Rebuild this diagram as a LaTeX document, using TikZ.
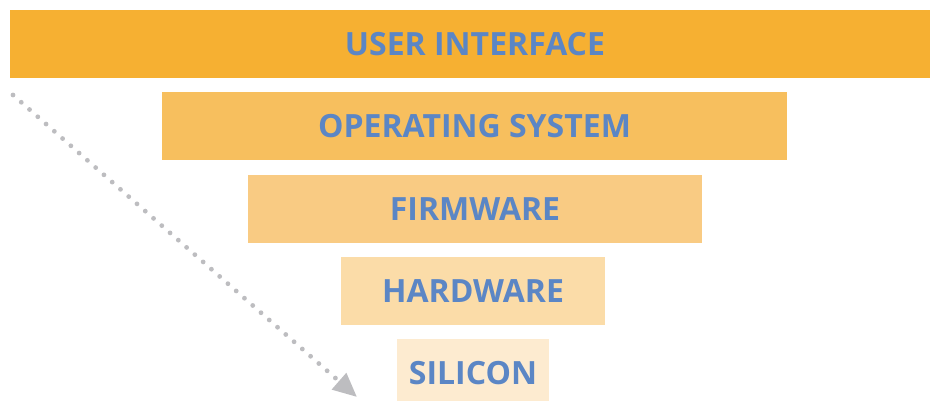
\documentclass[tikz,border=0pt]{standalone}
\usepackage{fontspec}
\setmainfont{Open Sans}
\usepackage{tikz}
\usetikzlibrary{arrows.meta,positioning}
\definecolor{lyrA}{HTML}{F6B032}
\definecolor{lyrB}{HTML}{F7BF5E}
\definecolor{lyrC}{HTML}{F9CB83}
\definecolor{lyrD}{HTML}{FBDCA8}
\definecolor{lyrE}{HTML}{FDEBD0}
\definecolor{lyrtxt}{HTML}{5B86C5}
\definecolor{dotgray}{HTML}{BDBDC0}
\tikzset{lyr/.style={rectangle,minimum height=68pt,inner sep=0pt,text=lyrtxt,font=\fontsize{32}{36}\selectfont\bfseries}}

\begin{document}
\begin{tikzpicture}[x=1pt,y=-1pt,dotarrow/.style={draw=dotgray,line width=4.8pt,line cap=round,dash pattern=on 0pt off 11pt,-{Triangle[length=24pt,width=21pt,line cap=butt]}}]
	\useasboundingbox (0,0) rectangle (930,400);
	\clip (0,0) rectangle (930,400);
	\node[lyr,fill=lyrA,minimum width=930pt] (ui) at (475,44) {USER INTERFACE};
	\node[lyr,fill=lyrB,minimum width=625pt] (os) at (474.5,126) {OPERATING SYSTEM};
	\node[lyr,fill=lyrC,minimum width=454pt] (fw) at (475,209) {FIRMWARE};
	\node[lyr,fill=lyrD,minimum width=264pt] (hw) at (473,291) {HARDWARE};
	\node[lyr,fill=lyrE,minimum width=152pt] (si) at (473,373) {SILICON};
	\coordinate (top) at (13,95);
	\coordinate (bot) at (357,397);
	\draw[dotarrow] (top) -- (bot);
\end{tikzpicture}
\end{document}
